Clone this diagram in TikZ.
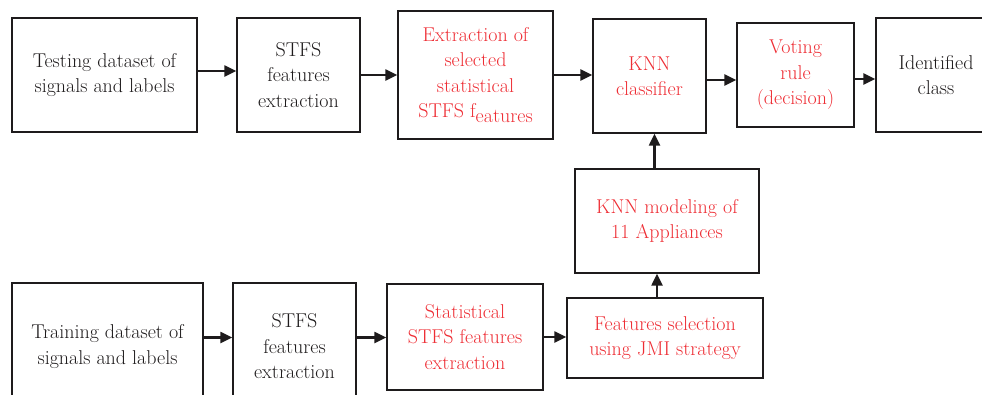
\documentclass[tikz,border=0pt]{standalone}
\usepackage{tikz}
\usetikzlibrary{arrows.meta}
\definecolor{inkred}{RGB}{238,45,52}
\definecolor{inkblack}{RGB}{30,27,28}
\tikzset{
	blk/.style={draw=inkblack, line width=1.3pt, align=center, inner sep=0pt, text=inkblack, font=\fontsize{20}{25.5}\selectfont},
	redblk/.style={blk, text=inkred},
	arr/.style={draw=inkblack, line width=2.2pt, -{Triangle[length=12pt,width=11pt]}}
}

\begin{document}
\begin{tikzpicture}[x=1pt,y=-1pt]
				%%%%% START %%%%%
				\def\hrow{114}
				\def\hlow{127}
				\def\yrow{75}
				\def\ylow{346.5}

				\useasboundingbox (0,0) rectangle (982,394);

				% testing row
				\node[blk, minimum width=185pt, minimum height=\hrow pt] (test) at (104.5,\yrow) {Testing dataset of\\signals and labels};
				\node[blk, minimum width=123pt, minimum height=\hrow pt] (stfsA) at (298.5,\yrow) {STFS\\features\\extraction};
				\node[redblk, minimum width=155pt, minimum height=128pt] (extr) at (475.5,\yrow) {Extraction of\\selected\\statistical\\STFS f\raisebox{-5pt}{eatures}};
				\node[redblk, minimum width=113pt, minimum height=\hrow pt] (knn) at (649.5,76) {KNN\\classifier};
				\node[redblk, minimum width=117pt, minimum height=104pt] (vote) at (795.5,\yrow) {Voting\\rule\\(decision)};
				\node[blk, minimum width=120pt, minimum height=\hrow pt] (ident) at (936,\yrow) {Identified\\class};

				% training row
				\node[blk, minimum width=191pt, minimum height=\hlow pt] (train) at (107.5,\ylow) {Training dataset of\\signals and labels};
				\node[blk, minimum width=123pt, minimum height=\hlow pt] (stfsB) at (294.5,\ylow) {STFS\\features\\extraction};
				\node[redblk, minimum width=156pt, minimum height=106pt] (stat) at (465,337) {Statistical\\STFS features\\extraction};
				\node[redblk, minimum width=196pt, minimum height=80pt] (jmi) at (665,338) {Features selection\\using JMI strategy};
				\node[redblk, minimum width=184pt, minimum height=104pt] (model) at (667,221) {KNN modeling of\\11 Appliances};

				\draw[arr] ([yshift=4pt]test.east) -- ([yshift=4pt]test.east -| stfsA.west);
				\draw[arr] (stfsA.east) -- (stfsA.east -| extr.west);
				\draw[arr] (extr.east) -- (extr.east -| knn.west);
				\draw[arr] ([yshift=-4pt]knn.east) -- ([yshift=-4pt]knn.east -| vote.west);
				\draw[arr] ([yshift=-4pt]vote.east) -- ([yshift=-4pt]vote.east -| ident.west);

				\draw[arr] ([yshift=9pt]train.east) -- ([yshift=9pt]train.east -| stfsB.west);
				\draw[arr] ([yshift=9pt]stfsB.east) -- ([yshift=9pt]stfsB.east -| stat.west);
				\draw[arr] (stat.east) -- (stat.east -| jmi.west);
				\draw[arr] ([xshift=-8pt]jmi.north) -- ([xshift=-8pt]jmi.north |- model.south);
				\draw[arr] ([xshift=5pt]knn.south |- model.north) -- ([xshift=5pt]knn.south);
				%%%%% START %%%%%
\end{tikzpicture}
\end{document}
